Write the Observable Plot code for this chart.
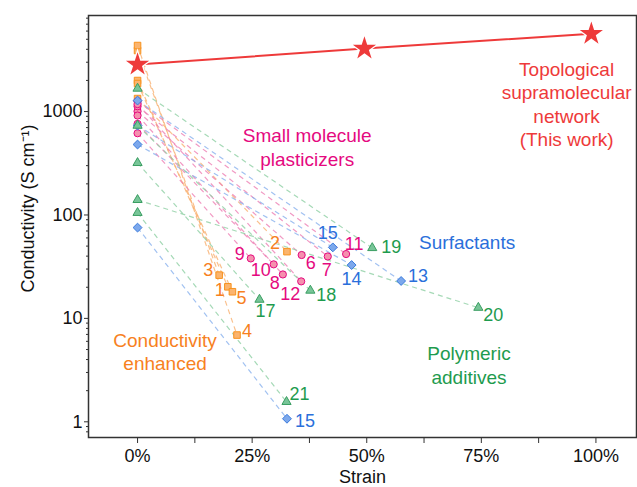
<!DOCTYPE html>
<html><head><meta charset="utf-8">
<script src="https://cdn.jsdelivr.net/npm/d3@7"></script>
<script src="https://cdn.jsdelivr.net/npm/@observablehq/plot@0.6"></script>
<style>body{margin:0;background:#fff}</style>
</head><body><div id="chart"></div>
<script>
// ---- Data ----
// Conductivity enhanced (orange squares)
const enhancedLabels = ["1", "2", "3", "4", "5"];
const enhancedStart  = [1995, 1336, 3890, 4350, 1866];
const enhancedStrain = [0.197, 0.326, 0.178, 0.217, 0.207];
const enhancedEnd    = [20.2, 44.2, 26.2, 6.9, 18.1];

// Small molecule plasticizers (pink circles)
const plastLabels = ["6", "7", "8", "9", "10", "11", "12"];
const plastStart  = [1007, 1125, 915, 617, 760, 1258, 1180];
const plastStrain = [0.358, 0.415, 0.317, 0.247, 0.297, 0.455, 0.357];
const plastEnd    = [41.0, 39.7, 26.6, 38.0, 33.3, 41.9, 22.8];

// Surfactants (blue diamonds)
const surfLabels = ["13", "14", "15", "15"];
const surfStart  = [1278, 480, 732, 75.5];
const surfStrain = [0.575, 0.467, 0.426, 0.326];
const surfEnd    = [23.0, 32.8, 48.6, 1.07];

// Polymeric additives (green triangles)
const polyLabels = ["17", "18", "19", "20", "21"];
const polyStart  = [319, 732, 1670, 140, 105];
const polyStrain = [0.266, 0.377, 0.512, 0.7435, 0.325];
const polyEnd    = [15.2, 18.6, 48.0, 12.7, 1.56];

// Topological supramolecular network (this work, red stars)
const workStrain = [0, 0.495, 0.99];
const workCond   = [2850, 4070, 5650];

// Axis ticks
const xTicks = [0, 0.25, 0.5, 0.75, 1];
const xMinorTicks = [0.125, 0.375, 0.625, 0.875];
const yTicks = [1, 10, 100, 1000];

// ---- Styling / layout ----
const groups = [
  {labels: enhancedLabels, start: enhancedStart, strain: enhancedStrain, end: enhancedEnd,
   symbol: "square", r: 3.7, fill: "#FBB46E", stroke: "#F7921E", dash: "#F9B070", text: "#F7811E"},
  {labels: plastLabels, start: plastStart, strain: plastStrain, end: plastEnd,
   symbol: "circle", r: 3.6, fill: "#F590AE", stroke: "#E5097F", dash: "#EE7FB4", text: "#E5097F"},
  {labels: surfLabels, start: surfStart, strain: surfStrain, end: surfEnd,
   symbol: "diamond2", r: 4.0, fill: "#7CA8EC", stroke: "#3A7BDD", dash: "#8AB2EE", text: "#2A6FDB"},
  {labels: polyLabels, start: polyStart, strain: polyStrain, end: polyEnd,
   symbol: "triangle", r: 3.4, fill: "#78C598", stroke: "#3A9E62", dash: "#8ED0A4", text: "#1E9B4E"}
];
// label offsets in px (dx, dy) relative to each end point
const labelOffsets = [
  [[-8, 3], [-12, -8], [-11, -5], [10, -4], [9, 6]],
  [[9, 8], [-1, 14], [-8, 9], [-11, -4], [-13, 6], [8, -10], [-11, 13]],
  [[17, -5], [0, 14], [-5, -14], [18, 2]],
  [[6, 12], [16, 5], [19, -1], [15, 8], [13, -8]]
];

const rowsByGroup = groups.map(g => g.labels.map((lab, i) => ({
  label: lab, start: g.start[i], strain: g.strain[i], end: g.end[i]
})));
const workRows = workStrain.map((s, i) => ({strain: s, cond: workCond[i]}));

const yMin = 0.705, yMax = 8490;
const yMinorTicks = [];
for (const dec of [0.1, 1, 10, 100, 1000]) for (let k = 2; k <= 9; k++) {
  const v = +(k * dec).toPrecision(3);
  if (v >= yMin && v <= yMax) yMinorTicks.push(v);
}

const marks = [];
// dashed connectors
groups.forEach((g, gi) => {
  marks.push(Plot.link(rowsByGroup[gi], {
    x1: d => 0, y1: "start", x2: "strain", y2: "end",
    stroke: g.dash, strokeWidth: 1.2, strokeDasharray: "5,4", strokeOpacity: 0.8
  }));
});
// start points
groups.forEach((g, gi) => {
  marks.push(Plot.dot(rowsByGroup[gi], {
    x: d => 0, y: "start", symbol: g.symbol, r: g.r, fill: g.fill, stroke: g.stroke, strokeWidth: 1
  }));
});
// end points
groups.forEach((g, gi) => {
  marks.push(Plot.dot(rowsByGroup[gi], {
    x: "strain", y: "end", symbol: g.symbol, r: g.r, fill: g.fill, stroke: g.stroke, strokeWidth: 1
  }));
});
// number labels
groups.forEach((g, gi) => {
  rowsByGroup[gi].forEach((row, i) => {
    const [dx, dy] = labelOffsets[gi][i];
    marks.push(Plot.text([row], {x: "strain", y: "end", text: "label", dx, dy,
      fill: g.text, fontSize: 18}));
  });
});
// this work
marks.push(Plot.line(workRows, {x: "strain", y: "cond", stroke: "#EE3A3A", strokeWidth: 2}));
marks.push(Plot.dot(workRows, {x: "strain", y: "cond", symbol: "star", r: 7.3,
  fill: "#EE3A3A", stroke: "white", strokeWidth: 2.5}));
marks.push(Plot.dot(workRows, {x: "strain", y: "cond", symbol: "star", r: 7.3, fill: "#EE3A3A"}));

// group annotations
const notes = [
  {text: "Topological\nsupramolecular\nnetwork\n(This work)", x: 0.936, y: 1195, color: "#EE3A3A"},
  {text: "Small molecule\nplasticizers", x: 0.37, y: 459, color: "#E5097F"},
  {text: "Surfactants", x: 0.719, y: 55.4, color: "#2A6FDB"},
  {text: "Conductivity\nenhanced", x: 0.06, y: 4.85, color: "#F7811E"},
  {text: "Polymeric\nadditives", x: 0.723, y: 3.59, color: "#1E9B4E"}
];
notes.forEach(n => marks.push(Plot.text([n], {x: "x", y: "y", text: "text", fill: n.color,
  fontSize: 19, lineHeight: 1.23})));

// axes and frame
marks.push(Plot.axisY(yTicks, {tickSize: 4, tickPadding: 2, tickFormat: d => String(d),
  label: null, fontSize: 18, stroke: "#333"}));
marks.push(Plot.axisY(yMinorTicks, {tickSize: 2, tickFormat: () => "", label: null, stroke: "#333"}));
marks.push(Plot.axisX(xTicks, {tickSize: 6, tickPadding: 6, tickFormat: d => Math.round(d * 100) + "%",
  label: null, fontSize: 18, stroke: "#333"}));
marks.push(Plot.axisX(xMinorTicks, {tickSize: 6, tickFormat: () => "", label: null, stroke: "#333"}));
marks.push(Plot.frame({stroke: "#333", strokeWidth: 1.5}));
marks.push(Plot.text(["Strain"], {frameAnchor: "bottom", dy: 45, fontSize: 18, fill: "#111"}));
marks.push(Plot.text(["Conductivity (S cm\u207B\u00B9)"], {frameAnchor: "left", textAnchor: "middle",
  dx: -60, dy: -18, rotate: -90, fontSize: 18, fill: "#111"}));

const chart = Plot.plot({
  width: 637, height: 487,
  marginLeft: 88, marginRight: 1, marginTop: 15, marginBottom: 50,
  style: {fontFamily: "'Liberation Sans', Arial, sans-serif", fontSize: "18px", background: "white", color: "#111"},
  x: {domain: [-0.107, 1.0885]},
  y: {type: "log", domain: [yMin, yMax]},
  marks
});
document.getElementById("chart").appendChild(chart);
</script></body></html>
